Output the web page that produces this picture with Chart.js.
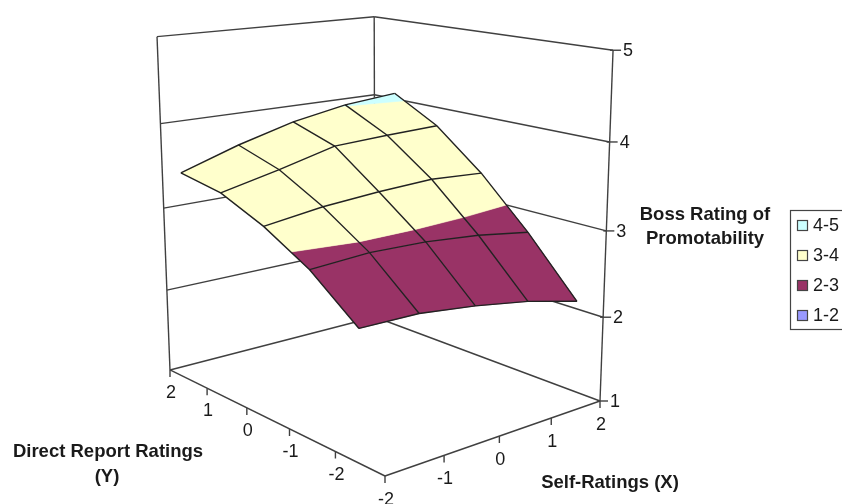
<!DOCTYPE html>
<html>
<head>
<meta charset="utf-8">
<title>Boss Rating of Promotability</title>
<script src="https://cdn.jsdelivr.net/npm/chart.js@4"></script>
<style>
    html, body { margin: 0; padding: 0; background: #fff; overflow: hidden; }
    canvas { display: block; }
</style>
</head>
<body>
<canvas id="chart" width="842" height="504"></canvas>
<script>
// Axis categories and ticks
const selfRatings = [-2, -1, 0, 1, 2]
const directReportRatings = [-2, -1, 0, 1, 2]
const bossTicks = [1, 2, 3, 4, 5]

// Boss rating, one list per direct report rating,
// each running along selfRatings
const bossAtDirectMinus2 = [2.45, 2.44, 2.36, 2.25, 2.09]
const bossAtDirectMinus1 = [2.88, 2.92, 2.90, 2.84, 2.74]
const bossAtDirect0 = [3.18, 3.27, 3.32, 3.35, 3.31]
const bossAtDirect1 = [3.40, 3.55, 3.72, 3.75, 3.77]
const bossAtDirect2 = [3.49, 3.71, 3.89, 4.01, 4.07]
const surface = [bossAtDirectMinus2, bossAtDirectMinus1, bossAtDirect0, bossAtDirect1, bossAtDirect2]

// Legend, top to bottom
const bandLabels = ["4-5", "3-4", "2-3", "1-2"]
const bandLows = [4, 3, 2, 1]
const bandColors = ["#CCFFFF", "#FFFFCC", "#993366", "#9999FF"]

const WALL_COLOR = "#404040"
const GRID_COLOR = "#222"
const TEXT_COLOR = "#1a1a1a"
const FONT_FAMILY = '"Liberation Sans", Arial, sans-serif'

/**
 * Perspective of the 3D box, fitted on its corners
 * @param {Number} u 0..1 along the self ratings floor axis
 * @param {Number} v 0..1 along the direct report floor axis
 * @param {Number} z boss rating
 * @returns {{x: Number, y: Number}}
 */
function boxPoint(u, v, z) {
    const w = (z - 1) / 4
    const d = 1 + 0.13656 * u + 0.19866 * v - 0.0666 * w
    return {
        x: (385 + 296.94 * u - 181.23 * v - 26 * w) / d,
        y: (476 - 20.24 * u - 32.5 * v - 402 * w) / d
    }
}

const selfPos = x => (x + 2) / 4
// The series axis has one band per rating, its ticks sit on the band edges
const directTickPos = y => (y + 3) / 5
const directSeriesPos = y => (y + 2.5) / 5

/**
 * Clip a surface cell to z >= limit or z <= limit
 */
function clipCell(cell, limit, keepAbove) {
    const inside = p => keepAbove ? p.z >= limit : p.z <= limit
    const out = []
    cell.forEach((p, i) => {
        const q = cell[(i + 1) % cell.length]
        if (inside(p)) out.push(p)
        if (inside(p) !== inside(q)) {
            const t = (limit - p.z) / (q.z - p.z)
            out.push({ u: p.u + (q.u - p.u) * t, v: p.v + (q.v - p.v) * t, z: limit })
        }
    })
    return out
}

function lineDataset(points, order, color, width) {
    return {
        data: points,
        showLine: true,
        pointRadius: 0,
        tension: 0,
        borderColor: color,
        borderWidth: width,
        fill: false,
        order
    }
}

function boxDatasets() {
    const sets = []
    const line = (a, b) => sets.push(lineDataset([a, b], 3, WALL_COLOR, 1.4))
    const top = bossTicks[bossTicks.length - 1]
    const bottom = bossTicks[0]
    // Uprights at the left, back and right corners
    line(boxPoint(0, 1, bottom), boxPoint(0, 1, top))
    line(boxPoint(1, 1, bottom), boxPoint(1, 1, top))
    line(boxPoint(1, 0, bottom), boxPoint(1, 0, top))
    // Level lines on both walls
    bossTicks.forEach(z => {
        line(boxPoint(0, 1, z), boxPoint(1, 1, z))
        line(boxPoint(1, 1, z), boxPoint(1, 0, z))
        const p = boxPoint(1, 0, z)
        line({ x: p.x - 3, y: p.y }, { x: p.x + 8, y: p.y })
    })
    // Floor edges
    line(boxPoint(0, 1, bottom), boxPoint(0, 0, bottom))
    line(boxPoint(0, 0, bottom), boxPoint(1, 0, bottom))
    // Floor ticks
    const floorTicks = [
        ...selfRatings.map(x => boxPoint(selfPos(x), 0, bottom)),
        ...directReportRatings.map(y => boxPoint(0, directTickPos(y), bottom))
    ]
    floorTicks.forEach(p => line(p, { x: p.x, y: p.y + 7 }))
    return sets
}

function surfaceCornerAt(i, j) {
    return {
        u: selfPos(selfRatings[i]),
        v: directSeriesPos(directReportRatings[j]),
        z: surface[j][i]
    }
}

function bandDatasets() {
    const sets = []
    for (let j = 0; j < directReportRatings.length - 1; j++) {
        for (let i = 0; i < selfRatings.length - 1; i++) {
            const cell = [
                surfaceCornerAt(i, j), surfaceCornerAt(i + 1, j),
                surfaceCornerAt(i + 1, j + 1), surfaceCornerAt(i, j + 1)
            ]
            bandLows.forEach((low, b) => {
                const clipped = clipCell(clipCell(cell, low, true), low + 1, false)
                if (clipped.length < 3) return
                const points = clipped.map(p => boxPoint(p.u, p.v, p.z))
                points.push(points[0])
                sets.push({
                    data: points,
                    showLine: true,
                    pointRadius: 0,
                    tension: 0,
                    fill: "shape",
                    backgroundColor: bandColors[b],
                    borderColor: bandColors[b],
                    borderWidth: 0.6,
                    order: 2
                })
            })
        }
    }
    return sets
}

function gridDatasets() {
    const sets = []
    const toPoint = c => boxPoint(c.u, c.v, c.z)
    directReportRatings.forEach((_, j) => {
        const points = selfRatings.map((_, i) => toPoint(surfaceCornerAt(i, j)))
        sets.push(lineDataset(points, 1, GRID_COLOR, 1.4))
    })
    selfRatings.forEach((_, i) => {
        const points = directReportRatings.map((_, j) => toPoint(surfaceCornerAt(i, j)))
        sets.push(lineDataset(points, 1, GRID_COLOR, 1.4))
    })
    return sets
}

/**
 * Tick labels, axis titles and the legend box
 */
const labelsPlugin = {
    id: "labels",
    afterDraw(chart) {
        const { ctx } = chart
        const sx = chart.scales.x
        const sy = chart.scales.y
        const text = (str, x, y) => ctx.fillText(str, sx.getPixelForValue(x), sy.getPixelForValue(y))

        ctx.save()
        ctx.fillStyle = TEXT_COLOR
        ctx.textAlign = "center"
        ctx.textBaseline = "middle"
        ctx.font = `18px ${FONT_FAMILY}`

        bossTicks.forEach(z => {
            const p = boxPoint(1, 0, z)
            text(String(z), p.x + 15, p.y + 1)
        })
        selfRatings.forEach(x => {
            const p = boxPoint(selfPos(x), 0, 1)
            text(String(x), p.x + 1, p.y + 24)
        })
        directReportRatings.forEach(y => {
            const p = boxPoint(0, directTickPos(y), 1)
            text(String(y), p.x + 1, p.y + 23)
        })

        ctx.font = `bold 18.5px ${FONT_FAMILY}`
        text("Boss Rating of", 705, 215)
        text("Promotability", 705, 239)
        text("Direct Report Ratings", 108, 452)
        text("(Y)", 107, 477)
        text("Self-Ratings (X)", 610, 483)

        // Legend
        ctx.strokeStyle = "#444"
        ctx.lineWidth = 1.2
        ctx.strokeRect(790.5, 210.5, 60, 119)
        ctx.font = `18px ${FONT_FAMILY}`
        ctx.textAlign = "left"
        bandLabels.forEach((label, i) => {
            const y = 226 + i * 30
            ctx.fillStyle = bandColors[i]
            ctx.fillRect(797.5, y - 5.5, 10, 10)
            ctx.strokeRect(797.5, y - 5.5, 10, 10)
            ctx.fillStyle = TEXT_COLOR
            ctx.fillText(label, 813, y)
        })
        ctx.restore()
    }
}

function main() {
    new Chart(document.getElementById("chart"), {
        type: "scatter",
        data: { datasets: [...boxDatasets(), ...bandDatasets(), ...gridDatasets()] },
        options: {
            responsive: false,
            animation: false,
            events: [],
            layout: { padding: 0 },
            scales: {
                x: { type: "linear", min: 0, max: 842, display: false },
                y: { type: "linear", min: 0, max: 504, reverse: true, display: false }
            },
            plugins: {
                legend: { display: false },
                tooltip: { enabled: false }
            }
        },
        plugins: [labelsPlugin]
    })
}

window.onload = main
</script>
</body>
</html>
